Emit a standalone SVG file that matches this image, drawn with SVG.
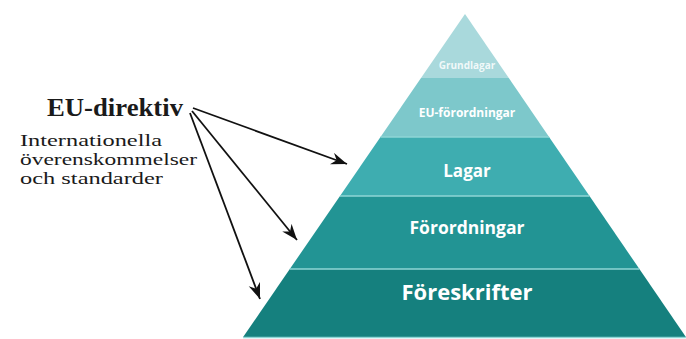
<svg xmlns="http://www.w3.org/2000/svg" width="686" height="339" viewBox="0 0 686 339">
  <defs>
    <marker id="arr" markerUnits="userSpaceOnUse" markerWidth="18" markerHeight="14" refX="16" refY="6" orient="auto">
      <path d="M0,0 L16,6 L0,12 L5,6 Z" fill="#111"/>
    </marker>
  </defs>
  <style>
    .lbl { font-family: "Open Sans", "DejaVu Sans", sans-serif; font-weight: bold; fill: #ffffff; text-anchor: middle; }
    .sep { stroke: #8fd6d6; stroke-width: 1.5; }
    .serif { font-family: "Liberation Serif", "DejaVu Serif", serif; fill: #1a1a1a; }
    .conn { stroke: #111; stroke-width: 1.8; fill: none; marker-end: url(#arr); }
  </style>
  <rect width="686" height="339" fill="#ffffff"/>

  <g id="grundlagar">
    <polygon points="465,14 508.8,78 421,78" fill="#a9d9dc"/>
    <text class="lbl" x="467" y="69" font-size="10" fill-opacity="0.85">Grundlagar</text>
  </g>
  <g id="eu-forordningar">
    <polygon points="421,78 508.8,78 549.1,137 380.5,137" fill="#7dc8cb"/>
    <text class="lbl" x="467" y="117" font-size="12">EU-förordningar</text>
  </g>
  <g id="lagar">
    <polygon points="380.5,137 549.1,137 589.5,196 340,196" fill="#3eadb0"/>
    <line class="sep" x1="380.5" y1="137" x2="549.1" y2="137"/>
    <text class="lbl" x="467" y="177" font-size="17">Lagar</text>
  </g>
  <g id="forordningar">
    <polygon points="340,196 589.5,196 639.4,269 289.8,269" fill="#229494"/>
    <line class="sep" x1="340" y1="196" x2="589.5" y2="196"/>
    <text class="lbl" x="467" y="234" font-size="17.5">Förordningar</text>
  </g>
  <g id="foreskrifter">
    <polygon points="289.8,269 639.4,269 685.9,337 243.1,337" fill="#15807e"/>
    <line class="sep" x1="289.8" y1="269" x2="639.4" y2="269"/>
    <line class="sep" x1="243.1" y1="337.5" x2="685.9" y2="337.5"/>
    <text class="lbl" x="467" y="300" font-size="22">Föreskrifter</text>
  </g>

  <g id="eu-direktiv">
    <text class="serif" x="47" y="116" font-size="25" font-weight="bold" textLength="136" lengthAdjust="spacingAndGlyphs">EU-direktiv</text>
    <text class="serif" x="20" y="145.5" font-size="17" textLength="142" lengthAdjust="spacingAndGlyphs">Internationella</text>
    <text class="serif" x="20" y="164.5" font-size="17" textLength="177" lengthAdjust="spacingAndGlyphs">överenskommelser</text>
    <text class="serif" x="20" y="183.5" font-size="17" textLength="143" lengthAdjust="spacingAndGlyphs">och standarder</text>
  </g>

  <g id="connectors">
    <line class="conn" x1="193" y1="108" x2="347" y2="164"/>
    <line class="conn" x1="192" y1="111" x2="297" y2="240"/>
    <line class="conn" x1="190" y1="113" x2="260" y2="299"/>
  </g>
</svg>
